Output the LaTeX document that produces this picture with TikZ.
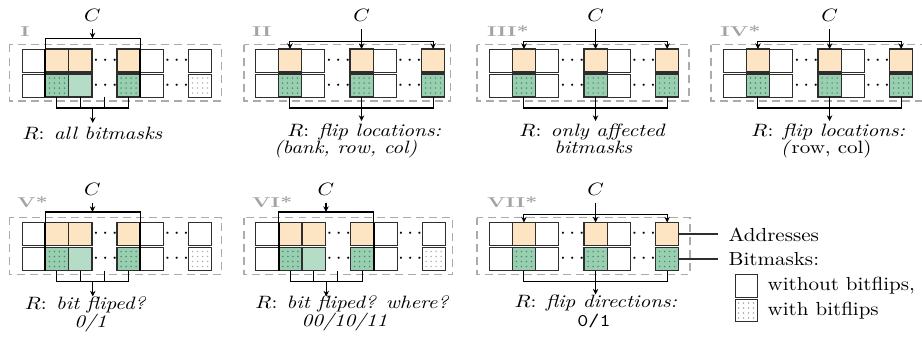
\documentclass[tikz,border=0pt]{standalone}
\usetikzlibrary{arrows.meta}
\definecolor{addr}{HTML}{FDE5C3}
\definecolor{bmflip}{HTML}{99CFB1}
\definecolor{bmplain}{HTML}{B4DCC6}
\definecolor{edgec}{HTML}{2E2E2E}
\definecolor{dotg}{HTML}{4A8465}
\definecolor{dotw}{HTML}{A8A8A8}
\definecolor{numgray}{HTML}{A4A4A4}
\definecolor{dashg}{HTML}{ABABAB}

\newcommand{\numtxt}[1]{\scalebox{1.02}[0.68]{\bfseries #1}}
\newcommand{\vsq}[1]{\scalebox{1}[0.85]{#1}}
\newcommand{\vsl}[1]{\scalebox{1}[0.9]{#1}}

% cells of one panel: prefix, left, top, top-row kinds, bottom-row kinds
\newcommand{\mkcells}[5]{%
  \foreach \f [count=\i from 0] in {#4}{%
    \pgfmathsetmacro{\cx}{#2+11.65+\i*23.3+25*(\i>2)+25*(\i>4)}%
    \node[c\f] (#1t\i) at (\cx,#3+11.5) {};}%
  \foreach \f [count=\i from 0] in {#5}{%
    \pgfmathsetmacro{\cx}{#2+11.65+\i*23.3+25*(\i>2)+25*(\i>4)}%
    \node[c\f] (#1b\i) at (\cx,#3+36.5) {};}%
  \node[dotsn] (#1da) at (#2+83.4,#3+11.5) {$\cdots$};
  \node[dotsn] (#1db) at (#2+83.4,#3+36.5) {$\cdots$};
  \node[dotsn] (#1dc) at (#2+154.8,#3+11.5) {$\cdots$};
  \node[dotsn] (#1dd) at (#2+154.8,#3+36.5) {$\cdots$};
}

% consecutive-block access (panels I, V, VI)
\newcommand{\brkA}[3]{%
  \coordinate (#1top) at (0,#3-10.5);
  \coordinate (#1bot) at (0,#3+59);
  \coordinate (#1gap) at (#2+82.4,#3+48);
  \coordinate (#1mid) at (#2+70.75,#3+59);
  \coordinate (#1end) at (#2+70.75,#3+74);
  \node (#1C) at (#2+70.5,#3-33.5) {\vsq{$C$}};
  \draw[arr] (#1C) -- (#1C |- #1top);
  \draw[ln] (#1t1.north west) -- (#1t1.north west |- #1top) -- (#1t3.north east |- #1top) -- (#1t3.north east);
  \draw[thk] (#1t1.north west) -- (#1b1.south west);
  \draw[thk] (#1t3.north east) -- (#1b3.south east);
  \draw[ln] (#1b1.south) -- (#1b1.south |- #1bot) -- (#1b3.south |- #1bot) -- (#1b3.south);
  \draw[ln] (#1b2.south) -- (#1b2.south |- #1bot);
  \draw[ln] (#1gap) -- (#1gap |- #1bot);
  \draw[arr] (#1mid) -- (#1end);
}

% scattered access (panels II, III, IV, VII)
\newcommand{\brkB}[3]{%
  \coordinate (#1hor) at (0,#3-7.6);
  \coordinate (#1bot) at (0,#3+59);
  \coordinate (#1end) at (#2+106.55,#3+72);
  \node (#1C) at (#2+106.55,#3-33.5) {\vsq{$C$}};
  \draw[arr] (#1C) -- (#1t3.north);
  \draw[arr2] (#1t1.north) -- (#1t1.north |- #1hor) -- (#1t5.north |- #1hor) -- (#1t5.north);
  \draw[ln] (#1b1.south) -- (#1b1.south |- #1bot) -- (#1b5.south |- #1bot) -- (#1b5.south);
  \draw[arr] (#1b3.south) -- (#1end);
}

\begin{document}
\begin{tikzpicture}[x=0.476pt,y=-0.476pt,
  cellb/.style={draw=edgec, line width=0.45pt, minimum width=11.1pt, minimum height=10.95pt, inner sep=0pt, outer sep=0pt},
  dotpat/.style={path picture={\foreach \a in {-1.5,-0.5,0.5,1.5}{\foreach \b in {-1.5,-0.5,0.5,1.5}{\fill[#1] ([xshift=\a*2.38pt,yshift=\b*2.38pt]path picture bounding box.center) circle[radius=0.38pt];}}}},
  cw/.style={cellb, fill=white},
  co/.style={cellb, fill=addr, line width=0.6pt},
  cg/.style={cellb, fill=bmplain, line width=0.6pt},
  cgd/.style={cellb, fill=bmflip, line width=0.6pt, dotpat=dotg},
  cwd/.style={cellb, fill=white, dotpat=dotw},
  dotsn/.style={inner sep=0pt},
  ln/.style={line width=0.5pt, black},
  thk/.style={line width=0.85pt, black},
  arr/.style={ln, -{Stealth[length=2.7pt,width=2.6pt]}},
  arr2/.style={ln, {Stealth[length=2.7pt,width=2.6pt]}-{Stealth[length=2.7pt,width=2.6pt]}},
  dbox/.style={draw=dashg, line width=0.6pt, dash pattern=on 3.8pt off 2.4pt},
  numl/.style={text=numgray, inner sep=0pt, anchor=west},
  rtxt/.style={inner sep=0pt, anchor=base},
  legl/.style={line width=0.5pt, edgec},
  legt/.style={inner sep=0pt, anchor=base west}]
\useasboundingbox (0,0) rectangle (922,343);
\clip (0,0) rectangle (922,343);

% dashed frames
\draw[dbox] (9.3,44.5) rectangle (221.7,101);
\draw[dbox] (244,44.5) rectangle (450.7,101);
\draw[dbox] (477,44.5) rectangle (689,101);
\draw[dbox] (711,44.5) rectangle (926,101);
\draw[dbox] (9.3,217.5) rectangle (221.7,274.5);
\draw[dbox] (244,217.5) rectangle (452.7,274.5);
\draw[dbox] (477,217.5) rectangle (690,274.5);

% panel labels
\node[numl] (n1) at (20,31.5) {\numtxt{I}};
\node[numl] (n2) at (251.7,31.5) {\numtxt{II}};
\node[numl] (n3) at (486.7,31.5) {\numtxt{III*}};
\node[numl] (n4) at (720,31.5) {\numtxt{IV*}};
\node[numl] (n5) at (16.7,202.5) {\numtxt{V*}};
\node[numl] (n6) at (251.7,202.5) {\numtxt{VI*}};
\node[numl] (n7) at (486.7,202.5) {\numtxt{VII*}};

% cells
\mkcells{P1}{22}{49}{w,o,o,o,w,w}{w,gd,g,gd,w,wd}
\mkcells{P2}{255}{49}{w,o,w,o,w,o}{w,gd,w,gd,w,gd}
\mkcells{P3}{489}{49}{w,o,w,o,w,o}{w,gd,w,gd,w,gd}
\mkcells{P4}{723}{49}{w,o,w,o,w,o}{w,gd,w,gd,w,gd}
\mkcells{P5}{22}{222.5}{w,o,o,o,w,w}{w,gd,g,gd,w,wd}
\mkcells{P6}{255.5}{222.5}{w,o,o,o,w,w}{w,gd,g,gd,w,wd}
\mkcells{P7}{489}{222.5}{w,o,w,o,w,o}{w,gd,w,gd,w,gd}

% connectors
\brkA{P1}{22}{49}
\brkB{P2}{255}{49}
\brkB{P3}{489}{49}
\brkB{P4}{723}{49}
\brkA{P5}{22}{222.5}
\brkA{P6}{255.5}{222.5}
\brkB{P7}{489}{222.5}

% results
\node[rtxt] (r1) at (92.5,139.5) {\vsq{$R$: \textit{all bitmasks}}};
\node[rtxt] (r2a) at (364.2,136.5) {\vsq{$R$: \textit{flip locations:}}};
\node[rtxt] (r2b) at (345.6,153) {\vsq{\textit{(bank, row, col)}}};
\node[rtxt] (r3a) at (592.5,136.5) {\vsq{$R$: \textit{only affected}}};
\node[rtxt] (r3b) at (593.3,153) {\vsq{\textit{bitmasks}}};
\node[rtxt] (r4a) at (828.3,136.5) {\vsq{$R$: \textit{flip locations:}}};
\node[rtxt] (r4b) at (826.2,153) {\vsq{\textit{(}row, col)}};
\node[rtxt] (r5a) at (85.5,309.5) {\vsq{$R$: \textit{bit fliped?}}};
\node[rtxt] (r5b) at (90.5,327.5) {\vsq{\textit{0/1}}};
\node[rtxt] (r6a) at (352.3,308.5) {\vsq{$R$: \textit{bit fliped? where?}}};
\node[rtxt] (r6b) at (344.5,326.5) {\vsq{\textit{00/10/11}}};
\node[rtxt] (r7a) at (595.8,307) {\vsq{$R$: \textit{flip directions:}}};
\node[rtxt] (r7b) at (594,326) {\vsq{\texttt{0/1}}};

% legend
\coordinate (la) at (718,234);
\coordinate (lb) at (718,259);
\draw[legl] (P7t5.east) -- (la);
\draw[legl] (P7b5.east) -- (lb);
\node[legt] (lat) at (728.3,241.3) {\vsl{Addresses}};
\node[legt] (lbt) at (728.3,265.3) {\vsl{Bitmasks:}};
\node[cw, minimum width=10.5pt, minimum height=10.8pt] (lw) at (746,285.7) {};
\node[cwd, minimum width=10.5pt, minimum height=10.8pt] (ld) at (746,310.5) {};
\node[legt] (lwt) at (767.3,290.3) {\vsl{without bitflips,}};
\node[legt] (ldt) at (767.3,315.3) {\vsl{with bitflips}};
\end{tikzpicture}
\end{document}
